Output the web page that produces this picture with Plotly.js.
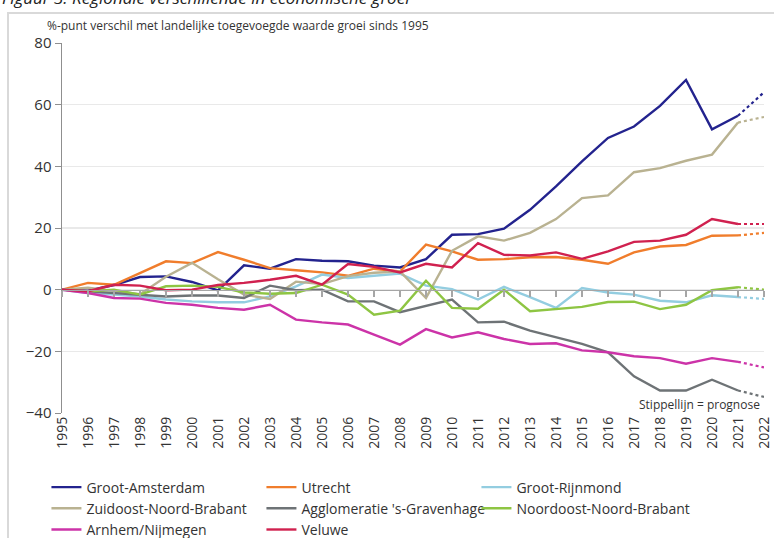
<!DOCTYPE html>
<html>
<head>
<meta charset="utf-8">
<script src="https://cdn.plot.ly/plotly-3.0.1.min.js"></script>
<style>html,body{margin:0;padding:0;background:#fff;}#chart{width:774px;height:538px;}</style>
</head>
<body>
<div id="chart"></div>
<script>
const years = [1995,1996,1997,1998,1999,2000,2001,2002,2003,2004,2005,2006,2007,2008,2009,2010,2011,2012,2013,2014,2015,2016,2017,2018,2019,2020,2021,2022];
const yearLabels = years.map(String);

const grootAmsterdam = [0,-0.3,1.5,4.1,4.3,2.5,-0.2,7.9,6.8,9.9,9.4,9.2,7.8,7.2,9.9,17.8,18.0,19.8,25.9,33.5,41.6,49.2,52.9,59.6,68.0,52.0,56.4,64.0];
const utrecht = [0,2.2,1.6,5.4,9.2,8.6,12.2,9.7,7.0,6.3,5.6,4.5,6.8,5.9,14.6,12.4,9.7,9.9,10.5,10.6,9.7,8.4,12.1,14.0,14.5,17.5,17.6,18.4];
const grootRijnmond = [0,-1.1,-1.6,-2.2,-3.2,-3.8,-4.1,-4.1,-2.2,1.1,4.9,3.8,4.5,5.2,1.3,0.2,-3.2,0.9,-2.4,-5.9,0.5,-0.9,-1.6,-3.6,-4.1,-1.8,-2.4,-3.0];
const zuidoostNB = [0,0.6,-0.4,-1.5,4.2,8.7,3.4,-1.6,-3.0,2.6,1.8,4.4,5.5,5.9,-2.7,12.6,17.3,15.9,18.4,22.9,29.7,30.6,38.1,39.4,41.8,43.8,54.2,56.0];
const gravenhage = [0,-0.5,-1.1,-1.6,-2.2,-1.9,-1.9,-2.7,1.3,-0.2,0,-3.8,-3.8,-7.3,-5.2,-3.2,-10.6,-10.4,-13.3,-15.5,-17.6,-20.3,-28.1,-32.7,-32.7,-29.2,-32.7,-34.8];
const noordoostNB = [0,-0.6,0,-1.6,1.1,1.3,0.9,-0.9,-1.3,-1.1,1.6,-1.6,-8.1,-6.8,2.9,-5.9,-6.2,0,-7.0,-6.2,-5.6,-4.0,-3.9,-6.3,-4.9,-0.2,0.8,0];
const arnhemNijmegen = [0,-1.1,-2.7,-2.9,-4.3,-4.9,-5.9,-6.5,-4.9,-9.7,-10.6,-11.3,-14.6,-17.8,-12.8,-15.5,-13.8,-16.0,-17.6,-17.4,-19.7,-20.3,-21.6,-22.2,-24.0,-22.2,-23.4,-25.2];
const veluwe = [0,-0.5,1.6,1.3,-0.2,0,1.5,2.2,3.2,4.5,1.6,8.3,7.4,5.6,8.4,7.2,15.1,11.3,11.1,12.1,10.0,12.4,15.5,15.9,17.8,22.9,21.3,21.3];

const seriesNames = ["Groot-Amsterdam","Utrecht","Groot-Rijnmond","Zuidoost-Noord-Brabant","Agglomeratie 's-Gravenhage","Noordoost-Noord-Brabant","Arnhem/Nijmegen","Veluwe"];
const seriesValues = [grootAmsterdam,utrecht,grootRijnmond,zuidoostNB,gravenhage,noordoostNB,arnhemNijmegen,veluwe];
const seriesColors = ["#23238e","#f07d2c","#93cde0","#b9b291","#6e7376","#8ec543","#cc33a8","#d0214f"];

const lastActual = 2021;
const nAct = years.indexOf(lastActual) + 1;

const traces = [];
seriesNames.forEach((name, i) => {
  traces.push({
    type: 'scatter', mode: 'lines', name: name,
    x: years.slice(0, nAct), y: seriesValues[i].slice(0, nAct),
    line: {color: seriesColors[i], width: 2.4},
    legendrank: i + 1
  });
});
seriesNames.forEach((name, i) => {
  traces.push({
    type: 'scatter', mode: 'lines', name: name + ' (prognose)',
    x: years.slice(nAct - 1), y: seriesValues[i].slice(nAct - 1),
    xaxis: 'x2',
    line: {color: seriesColors[i], width: 2.2, dash: 'dot'},
    showlegend: false
  });
});

const font = "'Open Sans', 'Noto Sans', sans-serif";

const layout = {
  width: 774, height: 538,
  margin: {l: 62, r: 10, t: 43, b: 125, autoexpand: false},
  paper_bgcolor: '#ffffff', plot_bgcolor: '#ffffff',
  font: {family: font, color: '#333333'},
  showlegend: true,
  xaxis: {
    range: [1995, 2022], tickvals: years, ticktext: yearLabels, automargin: false,
    tickangle: -90, showgrid: false, zeroline: false, showline: false,
    ticks: '', tickfont: {size: 14, color: '#333333'}
  },
  xaxis2: {
    overlaying: 'x', anchor: 'free', position: 1/3, automargin: false,
    range: [1995, 2022], tickvals: years, showticklabels: false,
    showgrid: false, zeroline: false, showline: true, linecolor: '#a6a6a6', linewidth: 1.5,
    ticks: 'outside', ticklen: 6, tickcolor: '#a6a6a6', tickwidth: 1.2
  },
  yaxis: {
    range: [-40, 80], dtick: 20, tick0: 0, automargin: false,
    showgrid: true, gridcolor: '#e9e9e9', gridwidth: 1.5,
    zeroline: false, showline: true, linecolor: '#8f8f8f', linewidth: 1.5,
    ticks: 'outside', ticklen: 6, tickcolor: '#8f8f8f',
    tickfont: {size: 15, color: '#333333'}
  },
  legend: {
    orientation: 'h', xref: 'container', yref: 'container',
    x: 0.06, y: 0.1236, xanchor: 'left', yanchor: 'top',
    entrywidth: 170, entrywidthmode: 'pixels', tracegroupgap: 0,
    font: {size: 14, color: '#333333'}, bgcolor: 'rgba(0,0,0,0)'
  },
  shapes: [
    {type: 'rect', xref: 'paper', yref: 'paper', x0: -0.0769, x1: 1.04, y0: -0.4, y1: 1.081,
     line: {color: '#d9d9d9', width: 2}, fillcolor: 'rgba(0,0,0,0)', layer: 'below'}
  ],
  annotations: [
    {xref: 'paper', yref: 'paper', x: -0.0883, y: 1.122, xanchor: 'left', yanchor: 'middle',
     text: '<i>Figuur 3: Regionale verschillende in economische groei</i>', showarrow: false,
     font: {size: 17, color: '#222222'}},
    {xref: 'paper', yref: 'paper', x: -0.024, y: 1.046, xanchor: 'left', yanchor: 'middle',
     text: '%-punt verschil met landelijke toegevoegde waarde groei sinds 1995', showarrow: false,
     font: {size: 12, color: '#333333'}},
    {xref: 'paper', yref: 'paper', x: 0.997, y: 0.0243, xanchor: 'right', yanchor: 'middle',
     text: 'Stippellijn = prognose', showarrow: false,
     font: {size: 12, color: '#333333'}}
  ]
};

Plotly.newPlot('chart', traces, layout, {displayModeBar: false, staticPlot: true});
</script>
</body>
</html>
